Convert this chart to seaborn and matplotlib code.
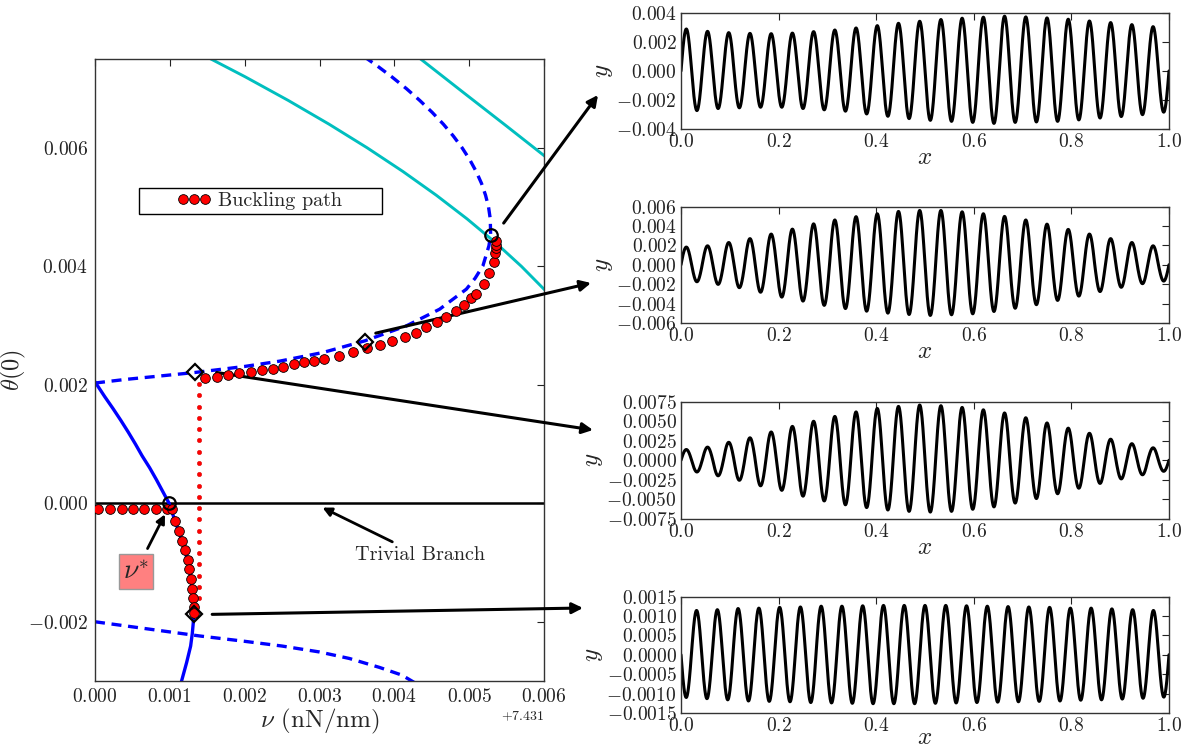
import numpy as np
import matplotlib
matplotlib.use("Agg")
import matplotlib.pyplot as plt
import seaborn as sns
from matplotlib.ticker import ScalarFormatter
from matplotlib.lines import Line2D
from matplotlib.patches import Rectangle

# ---------------- data (nu relative to offset, theta; both in units of 1e-3) ----
NU_OFFSET = 7.431
S = 1e-3

# buckling path, lower part (big red dots)
buck_low_nu = [0.044, 0.200, 0.356, 0.511, 0.658, 0.811, 0.957, 1.024, 1.068, 1.126,
               1.166, 1.202, 1.237, 1.259, 1.286, 1.295, 1.304, 1.317, 1.322]
buck_low_th = [-0.09, -0.09, -0.09, -0.09, -0.09, -0.09, -0.09, -0.10, -0.299, -0.468,
               -0.637, -0.788, -0.957, -1.115, -1.284, -1.441, -1.593, -1.751, -1.846]
# buckling path, upper part
buck_up_nu = [1.469, 1.625, 1.780, 1.927, 2.079, 2.226, 2.372, 2.514, 2.657, 2.794, 2.928,
              3.061, 3.262, 3.441, 3.636, 3.805, 3.975, 4.139, 4.286, 4.429, 4.570, 4.696,
              4.820, 4.931, 5.029, 5.096, 5.194, 5.264, 5.327, 5.350, 5.354, 5.354, 5.354]
buck_up_th = [2.123, 2.140, 2.162, 2.191, 2.218, 2.247, 2.275, 2.302, 2.348, 2.377, 2.404,
              2.432, 2.488, 2.546, 2.613, 2.669, 2.742, 2.809, 2.883, 2.968, 3.052, 3.147,
              3.248, 3.350, 3.458, 3.530, 3.699, 3.880, 4.066, 4.223, 4.302, 4.363, 4.421]
# snap-through jump (small red dots)
snap_th = [2.01, 1.82, 1.63, 1.44, 1.25, 1.06, 0.87, 0.68, 0.49, 0.30, 0.11, -0.08,
           -0.27, -0.46, -0.65, -0.84, -1.03, -1.22, -1.41, -1.60]
snap_nu = [1.393] * len(snap_th)

# blue solid branch
blue_solid_th = [2.05, 1.8, 1.6, 1.4, 1.2, 1.0, 0.8, 0.6, 0.4, 0.2, 0.0, -0.3, -0.64,
                 -0.96, -1.28, -1.59, -1.85, -2.02, -2.2, -2.41, -2.69, -3.0, -3.1]
blue_solid_nu = [0.0, 0.13, 0.24, 0.345, 0.445, 0.54, 0.63, 0.73, 0.82, 0.905, 0.99,
                 1.07, 1.165, 1.237, 1.285, 1.308, 1.318, 1.313, 1.300, 1.278, 1.224,
                 1.157, 1.13]
# blue dashed branch (upper)
blue_dash_up_nu = [0.0, 0.4, 0.8, 1.335, 2.0, 2.47, 3.048, 3.605, 4.161, 4.606, 4.963,
                   5.08, 5.184, 5.264, 5.287, 5.282, 5.259, 5.219, 5.165, 5.094, 5.008,
                   4.906, 4.788, 4.655, 4.505, 4.34, 4.161, 3.965, 3.754, 3.528]
blue_dash_up_th = [2.03, 2.09, 2.14, 2.208, 2.31, 2.40, 2.546, 2.742, 2.995, 3.277, 3.615,
                   3.80, 4.01, 4.346, 4.527, 4.8, 5.0, 5.2, 5.4, 5.6, 5.8,
                   6.0, 6.2, 6.4, 6.6, 6.8, 7.0, 7.2, 7.4, 7.6]
# blue dashed branch (lower)
blue_dash_lo_nu = [0.0, 0.7, 1.4, 2.0, 2.5, 3.0, 3.4, 3.8, 4.1, 4.3]
blue_dash_lo_th = [-2.0, -2.12, -2.24, -2.33, -2.41, -2.51, -2.62, -2.77, -2.90, -3.05]
# cyan branches
cyan1_th = [7.6, 7.2, 6.8, 6.4, 6.0, 5.6, 5.2, 4.8, 4.4, 4.0, 3.6, 3.45]
cyan1_nu = [1.397, 2.006, 2.583, 3.127, 3.638, 4.116, 4.561, 4.973, 5.352, 5.698, 6.011,
            6.12]
cyan2_nu = [4.25, 4.917, 5.497, 6.0, 6.1]
cyan2_th = [7.60, 6.94, 6.37, 5.87, 5.77]
# trivial branch
triv_nu = [0.0, 6.0]
triv_th = [0.0, 0.0]
# special points
circ_nu = [0.992, 5.287]
circ_th = [0.0, 4.527]
diam_nu = [1.335, 3.605, 1.322]
diam_th = [2.208, 2.731, -1.863]

# right panels: extrema of successive half-waves (units 1e-3)
p1_max = [2.88, 2.72, 2.63, 2.58, 2.56, 2.60, 2.70, 2.81, 2.95, 3.11, 3.27, 3.41, 3.53,
          3.62, 3.69, 3.76, 3.71, 3.64, 3.55, 3.43, 3.32, 3.18, 3.04]
p1_min = [-2.72, -2.58, -2.53, -2.49, -2.49, -2.58, -2.67, -2.76, -2.95, -3.11, -3.27,
          -3.39, -3.46, -3.53, -3.60, -3.53, -3.50, -3.46, -3.36, -3.23, -3.13, -3.0, -2.83]
p2_max = [1.82, 1.95, 2.29, 2.69, 3.16, 3.67, 4.21, 4.61, 4.95, 5.25, 5.49, 5.59, 5.59,
          5.45, 5.25, 4.98, 4.61, 4.18, 3.64, 3.16, 2.69, 2.29, 1.95]
p2_min = [-1.75, -2.02, -2.36, -2.83, -3.33, -3.74, -4.18, -4.51, -4.78, -4.98, -5.12,
          -5.22, -5.15, -5.05, -4.81, -4.48, -4.11, -3.67, -3.23, -2.76, -2.32, -1.95, -1.68]
p3_max = [1.38, 1.69, 2.31, 2.89, 3.64, 4.36, 5.02, 5.64, 6.22, 6.67, 6.93, 7.11, 7.02,
          6.80, 6.49, 6.09, 5.47, 4.80, 4.13, 3.47, 2.71, 2.13, 1.60]
p3_min = [-1.51, -2.00, -2.58, -3.29, -3.87, -4.62, -5.24, -5.73, -6.09, -6.40, -6.58,
          -6.67, -6.58, -6.31, -6.00, -5.51, -4.93, -4.31, -3.60, -2.98, -2.40, -1.87, -1.42]
p4_min = [-1.10, -1.13, -1.16, -1.19, -1.20, -1.21, -1.23, -1.24, -1.25, -1.26, -1.26,
          -1.26, -1.25, -1.24, -1.23, -1.22, -1.21, -1.20, -1.19, -1.17, -1.16, -1.14,
          -1.12, -1.09]
p4_max = [1.14, 1.16, 1.19, 1.20, 1.22, 1.23, 1.25, 1.25, 1.26, 1.27, 1.27, 1.27, 1.27,
          1.26, 1.25, 1.24, 1.23, 1.22, 1.20, 1.20, 1.18, 1.16, 1.14]

p_ylims = [0.004, 0.006, 0.0075, 0.0015]
p_ysteps = [0.002, 0.002, 0.0025, 0.0005]

# ---------------- style ----------------
sns.set_style("white")
plt.rcParams["font.family"] = ["cmr10", "DejaVu Serif"]
plt.rcParams["mathtext.fontset"] = "cm"
plt.rcParams["axes.formatter.use_mathtext"] = True
plt.rcParams["axes.edgecolor"] = "#333333"
plt.rcParams["axes.linewidth"] = 1.0
plt.rcParams["xtick.color"] = "#222222"
plt.rcParams["ytick.color"] = "#222222"

W, H = 1185, 750
fig = plt.figure(figsize=(W / 100, H / 100), dpi=100)
fig.patch.set_facecolor("white")


def nu(a):
    return NU_OFFSET + np.asarray(a) * S


def th(a):
    return np.asarray(a) * S


ax = fig.add_axes([95 / W, 1 - 681 / H, 449 / W, 622 / H])

line_kw = dict(ax=ax, sort=False, estimator=None)
sns.lineplot(x=nu(cyan1_nu), y=th(cyan1_th), color="#00bfbf", lw=2.1, **line_kw)
sns.lineplot(x=nu(cyan2_nu), y=th(cyan2_th), color="#00bfbf", lw=2.1, **line_kw)
sns.lineplot(x=nu(triv_nu), y=th(triv_th), color="black", lw=1.8, **line_kw)
sns.lineplot(x=nu(blue_solid_nu), y=th(blue_solid_th), color="blue", lw=2.4, **line_kw)
sns.lineplot(x=nu(blue_dash_up_nu), y=th(blue_dash_up_th), color="blue", lw=2.4,
             linestyle=(0, (3, 2)), **line_kw)
sns.lineplot(x=nu(blue_dash_lo_nu), y=th(blue_dash_lo_th), color="blue", lw=2.4,
             linestyle=(0, (3, 2)), **line_kw)
# snap-through small dots
sns.lineplot(x=nu(snap_nu), y=th(snap_th), marker="o", linestyle="", markersize=3.2,
             markerfacecolor="red", markeredgecolor="#cc0000", markeredgewidth=0.3,
             **line_kw)
# buckling path dots
dot_kw = dict(marker="o", linestyle="", markersize=7, markerfacecolor="red",
              markeredgecolor="black", markeredgewidth=0.6)
sns.lineplot(x=nu(buck_low_nu), y=th(buck_low_th), **dot_kw, **line_kw)
sns.lineplot(x=nu(buck_up_nu), y=th(buck_up_th), **dot_kw, **line_kw)
# special points
sns.lineplot(x=nu(circ_nu), y=th(circ_th), marker="o", linestyle="", markersize=9,
             markerfacecolor="none", markeredgecolor="black", markeredgewidth=1.6,
             **line_kw)
sns.lineplot(x=nu(diam_nu), y=th(diam_th), marker="D", linestyle="", markersize=8,
             markerfacecolor="none", markeredgecolor="black", markeredgewidth=1.6,
             **line_kw)
for ln in ax.lines[-4:]:
    ln.set_zorder(5)

ax.set_xlim(NU_OFFSET, NU_OFFSET + 0.006)
ax.set_ylim(-0.003, 0.0075)
ax.set_xticks(NU_OFFSET + np.arange(0, 7) * 0.001)
ax.set_yticks(np.arange(-2, 7, 2) * 0.001)
ax.xaxis.set_major_formatter(ScalarFormatter(useOffset=NU_OFFSET))
ax.tick_params(direction="in", top=True, right=True, length=5, width=0.8,
               labelsize=14, pad=5)
ax.xaxis.offsetText.set_fontsize(10)
ax.set_xlabel(r"$\nu$ (nN/nm)", fontsize=18, labelpad=1)
ax.set_ylabel(r"$\theta(0)$", fontsize=17.5, labelpad=0)

# legend with a wide square frame
ax.add_patch(Rectangle((0.098, 0.7508), 0.541, 0.0418, transform=ax.transAxes,
                       facecolor="white", edgecolor="black", lw=1.0, zorder=6))
h = Line2D([], [], marker="o", linestyle="none", markersize=7, markerfacecolor="red",
           markeredgecolor="black", markeredgewidth=0.6)
leg = ax.legend([h], ["Buckling path"], numpoints=3, frameon=False, loc="center",
                bbox_to_anchor=(0.367, 0.772), fontsize=14.5, handlelength=1.7,
                handletextpad=0.35, borderpad=0.2)
leg.set_zorder(7)

arrow = dict(arrowstyle="-|>", color="black", lw=2.0, mutation_scale=13)
ax.annotate("Trivial Branch", xy=(NU_OFFSET + 3.04e-3, -0.073e-3),
            xytext=(NU_OFFSET + 4.34e-3, -0.878e-3), ha="center", va="center",
            fontsize=14.5, arrowprops=dict(arrow, shrinkA=2, shrinkB=0))
ax.annotate(r"$\nu^{*}$", xy=(NU_OFFSET + 0.935e-3, -0.186e-3),
            xytext=(NU_OFFSET + 0.547e-3, -1.149e-3), ha="center", va="center",
            fontsize=20,
            bbox=dict(boxstyle="square,pad=0.15", fc="#ff8080", ec="#999999", lw=1),
            arrowprops=dict(arrow, shrinkA=4, shrinkB=0))

# arrows to the right panels
big = dict(arrowstyle="-|>", color="black", lw=2.2, mutation_scale=16,
           shrinkA=0, shrinkB=0)
starts = [(5.461, 4.73), (3.752, 2.872), (1.625, 2.208), (1.566, -1.875)]
tips = [(598, 95), (591, 283), (593, 430), (583, 608)]
for (sx, sy), (tx, ty) in zip(starts, tips):
    ax.annotate("", xy=(tx / W, 1 - ty / H), xycoords="figure fraction",
                xytext=(NU_OFFSET + sx * S, sy * S), textcoords="data",
                arrowprops=big, annotation_clip=False)

# ---------------- right panels ----------------
panels = [
    [v for pair in zip(p1_max, p1_min) for v in pair],
    [v for pair in zip(p2_max, p2_min) for v in pair],
    [v for pair in zip(p3_max, p3_min) for v in pair],
    [p4_min[0]] + [v for pair in zip(p4_max, p4_min[1:]) for v in pair],
]
tops = [12.7, 206.5, 402.0, 596.5]
xpads = [-3, -3, -3, -6]
ph = 116.5
xx = np.linspace(0, 1, 6001)
for ext, top, ylim, ystep, xpad in zip(panels, tops, p_ylims, p_ysteps, xpads):
    axr = fig.add_axes([681 / W, 1 - (top + ph) / H, 488 / W, ph / H])
    ext = np.asarray(ext) * S
    n = len(ext)
    idx = np.clip(np.floor(xx * n).astype(int), 0, n - 1)
    yy = ext[idx] * np.sin(np.pi * (xx * n - idx))
    sns.lineplot(x=xx, y=yy, ax=axr, color="black", lw=2.2, sort=False, estimator=None)
    axr.set_xlim(0, 1)
    axr.set_ylim(-ylim, ylim)
    axr.set_xticks(np.arange(0, 1.01, 0.2))
    k = int(round(ylim / ystep))
    axr.set_yticks(np.arange(-k, k + 1) * ystep)
    axr.tick_params(direction="in", top=True, right=True, length=5, width=0.8,
                    labelsize=14, pad=3)
    axr.set_xlabel(r"$x$", fontsize=18, labelpad=xpad)
    axr.set_ylabel(r"$y$", fontsize=18, labelpad=1)

fig.savefig("out.png", dpi=100, facecolor="white")
